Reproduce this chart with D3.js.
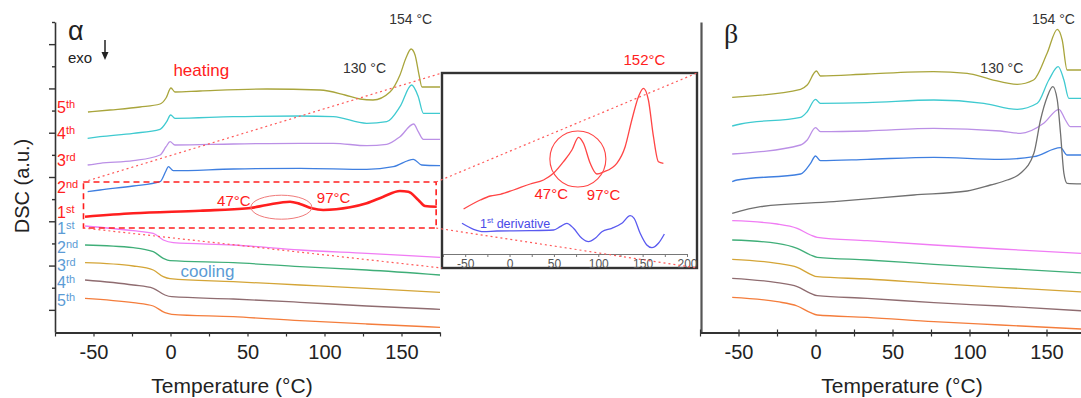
<!DOCTYPE html>
<html>
<head>
<meta charset="utf-8">
<script src="https://cdn.jsdelivr.net/npm/d3@7"></script>
<style>
  body { margin: 0; background: #fff; }
  text { font-family: "Liberation Sans", Arial, sans-serif; }
</style>
</head>
<body>
<svg id="chart" width="1081" height="398"></svg>
<script>
// ---- data: [temperature °C, DSC a.u.] ----
const alphaHeat5 = [[-53.6,22.0],[-39.3,22.2],[-19.8,22.5],[-6.8,22.8],[-2.9,23.4],[0.3,24.4],[2.9,24.0],[19.2,24.1],[62.7,24.3],[97.1,24.2],[113.3,23.7],[123.1,23.3],[131.5,23.2],[142.5,24.0],[149,25.7],[152.9,27.4],[156.2,28.3],[158.8,27.7],[161.4,25.7],[163.3,24.5],[175,24.5]];
const alphaHeat4 = [[-53.8,19.37],[-45.8,19.53],[-24.2,19.87],[-6.8,20.27],[-2.5,21.03],[0.1,21.7],[2.9,21.37],[40.6,21.53],[84.1,21.6],[105.7,21.53],[127.4,20.87],[140.4,21.03],[149,22.53],[156.6,24.7],[160.9,23.53],[164.2,21.87],[175,21.87]];
const alphaHeat3 = [[-53.8,16.7],[-45.8,16.87],[-24.2,17.13],[-6.8,17.7],[-2.9,18.53],[-0.3,19.03],[2.9,18.7],[40.8,18.8],[84.1,18.87],[105.7,18.87],[127.4,18.63],[140.4,18.77],[149,19.53],[157.9,20.8],[160.9,20.03],[164.2,19.27],[175,19.27]];
const alphaHeat2 = [[-53.8,14.03],[-45.8,14.2],[-24.2,14.6],[-6.8,15.03],[-2.9,16.13],[-1.4,16.53],[1.8,16.13],[40.8,16.3],[84.1,16.37],[127.4,16.27],[144.7,16.53],[157.7,17.27],[163.1,16.7],[175,16.63]];
const alphaHeat1 = [[-55.5,11.53],[-24.2,11.87],[19.2,12.13],[50.5,12.37],[62.5,12.7],[77.6,13.03],[84.1,12.8],[91.7,12.37],[99.2,12.2],[116.6,12.47],[127.4,12.87],[138.2,13.53],[149,14.1],[154.4,14.03],[160.9,13.2],[165.3,12.6],[172.9,12.53]];
const alphaCool1 = [[-55.5,10.6],[-24.2,10.13],[-11.2,9.87],[-4.7,9.2],[1.8,8.93],[40.8,8.7],[84.1,8.2],[127.4,7.87],[175,7.47]];
const alphaCool2 = [[-55.5,8.7],[-24.2,8.43],[-11.2,8.03],[-4.7,7.37],[-0.3,7.13],[40.8,6.93],[84.1,6.53],[127.4,6.2],[175,5.7]];
const alphaCool3 = [[-55.5,6.93],[-24.2,6.6],[-11.2,6.2],[-4.7,5.53],[-0.3,5.33],[40.8,5.03],[84.1,4.7],[127.4,4.37],[175,3.97]];
const alphaCool4 = [[-55.5,5.2],[-24.2,4.7],[-11.2,4.37],[-3.6,3.7],[0.8,3.53],[40.8,3.3],[84.1,2.97],[127.4,2.6],[175,2.27]];
const alphaCool5 = [[-55.5,3.37],[-24.2,2.93],[-11.2,2.6],[-3.6,1.93],[0.8,1.77],[40.8,1.53],[84.1,1.13],[127.4,0.8],[175,0.47]];

const betaHeat5 = [[-54.1,23.47],[-9.7,24.27],[-5.4,24.7],[0.6,26.1],[3.2,25.6],[33.6,25.8],[76.6,26.03],[98.5,25.87],[113.6,25.27],[131,24.77],[141.6,25.2],[150.4,27.87],[157,30.27],[160.2,29.2],[163.4,26.2],[175,26.2]];
const betaHeat4 = [[-54.1,20.6],[-48.7,20.8],[-9.7,21.47],[-5.4,22.03],[0,23.27],[3.2,22.87],[33.6,22.93],[76.9,23.2],[109.3,22.87],[131,22.27],[144,22.87],[151.5,25.2],[157.6,26.53],[161.3,25.2],[164.5,23.37],[175,23.37]];
const betaHeat3 = [[-54.1,17.8],[-9.7,18.7],[-5.4,19.2],[0,20.43],[3.2,20.03],[33.6,20.1],[76.9,20.37],[120.1,20.1],[133.1,19.87],[148.2,20.87],[158.1,22.27],[162.3,21.2],[165.6,20.53],[175,20.53]];
const betaHeat2 = [[-54.1,15.03],[-50.9,15.2],[-9.7,15.8],[-3.2,16.87],[0,17.6],[3.2,17.13],[33.6,17.27],[76.9,17.47],[120.1,17.27],[141.8,17.53],[159.1,18.43],[163.4,17.7],[175,17.7]];
const betaHeat1 = [[-54.1,11.87],[-35.7,12.53],[11.9,13.03],[63.8,13.7],[98.5,14.1],[113.6,14.7],[124.5,15.2],[133.1,15.87],[141.8,17.87],[146.1,21.2],[150.5,23.53],[154.1,24.53],[157,23.2],[159.1,19.87],[161.3,15.87],[163.4,14.87],[175,14.8]];
const betaCool1 = [[-54.1,11.13],[-24.9,10.8],[-11.9,10.37],[-3.2,9.7],[1.1,9.47],[33.6,9.13],[76.9,8.7],[120.1,8.3],[175,7.85]];
const betaCool2 = [[-54.1,9.2],[-24.9,8.87],[-11.9,8.37],[-3.2,7.7],[1.1,7.47],[33.6,7.2],[76.9,6.77],[120.1,6.37],[175,5.9]];
const betaCool3 = [[-54.1,7.27],[-24.9,6.87],[-11.9,6.47],[-3.2,5.77],[1.1,5.53],[33.6,5.3],[76.9,4.87],[120.1,4.47],[175,4.0]];
const betaCool4 = [[-54.1,5.37],[-24.9,4.93],[-11.9,4.53],[-3.2,3.87],[1.1,3.63],[33.6,3.37],[76.9,2.93],[120.1,2.6],[175,2.1]];
const betaCool5 = [[-54.1,3.47],[-24.9,3.03],[-11.9,2.6],[-3.2,1.93],[1.1,1.7],[33.6,1.47],[76.9,1.03],[120.1,0.7],[175,0.28]];

const insetHeat1 = [[-51.8,4.5],[-33,5.4],[-21.7,5.8],[-10.5,5.97],[4.5,6.4],[23.3,7.0],[38.3,7.4],[49.5,8.07],[60.8,9.23],[70.3,10.4],[77.7,11.67],[83.3,11.07],[90.9,9.07],[98.4,8.0],[105.9,8.2],[120.9,9.07],[130.3,10.73],[137.8,13.4],[145.3,15.73],[150.9,16.57],[156.5,15.4],[162.2,11.73],[167.8,9.23],[173.4,9.07]];
const insetDeriv = [[-53.6,3.07],[-40.5,2.47],[-29.3,2.23],[-14.2,2.3],[23.3,2.33],[49.5,2.4],[57.1,2.73],[64.6,3.07],[72.1,2.57],[81.5,1.57],[89,1.23],[96.5,1.57],[104.1,2.23],[115.3,2.57],[126.6,3.07],[136,3.83],[140.4,3.57],[147.2,2.07],[154.7,0.9],[160.4,0.63],[167.8,1.07],[174.5,2.0]];

const heatOrdinals = ['5th', '4th', '3rd', '2nd', '1st'];
const coolOrdinals = ['1st', '2nd', '3rd', '4th', '5th'];
const xTickLabels = [-50, 0, 50, 100, 150];
const insetTickLabels = [-50, 0, 50, 100, 150, 200];
const zoomBox = { t0: -56.5, t1: 172.5, v0: 10.4, v1: 15.0 };

const heatColors = ['#a9a53c', '#3fcad0', '#bb90e6', '#3f7fe0'];
const coolColors = ['#f07cf4', '#3fae78', '#d4a537', '#8f6c70', '#f47d3c'];
const red = '#ff1f1f', redLabel = '#ff2020', blueLabel = '#5b9bd5';

// ---- layout ----
const svg = d3.select('#chart');
const xA = d3.scaleLinear().domain([-75, 175]).range([55, 440]);
const xB = d3.scaleLinear().domain([-75, 175]).range([700, 1085]);
const y = d3.scaleLinear().domain([0, 31]).range([332, 22]);
const xI = d3.scaleLinear().domain([-75, 200]).range([443, 687]);
const yI = d3.scaleLinear().domain([0, 18]).range([254, 74]);
const inset = { x0: 442, y0: 73, x1: 697, y1: 268 };

const lineFor = (xs, ys) => d3.line().x(d => xs(d[0])).y(d => ys(d[1])).curve(d3.curveMonotoneX);

function drawSeries(g, list, xs, ys) {
  list.forEach(s => {
    g.append('path')
      .attr('d', lineFor(xs, ys)(s.data))
      .attr('fill', 'none')
      .attr('stroke', s.color)
      .attr('stroke-width', s.width || 1.3)
      .attr('stroke-linejoin', 'round');
  });
}

function xAxis(xs, cls) {
  const g = svg.append('g')
    .attr('class', cls)
    .attr('transform', 'translate(0,332.5)')
    .call(d3.axisBottom(xs)
      .tickValues(d3.range(-75, 176, 25))
      .tickSizeInner(4).tickSizeOuter(0).tickPadding(8)
      .tickFormat(d => xTickLabels.includes(d) ? String(d) : ''));
  g.select('.domain').attr('stroke', '#333').attr('stroke-width', 1.8);
  g.selectAll('.tick line').attr('stroke', '#333').attr('stroke-width', 1.2);
  g.selectAll('.tick text').attr('font-size', 20).attr('fill', '#222')
    .style('font-family', '"Liberation Sans", Arial, sans-serif');
  return g;
}

// ---- α panel ----
const pa = svg.append('g');
drawSeries(pa, [
  { data: alphaCool5, color: coolColors[4] },
  { data: alphaCool4, color: coolColors[3] },
  { data: alphaCool3, color: coolColors[2] },
  { data: alphaCool2, color: coolColors[1] },
  { data: alphaCool1, color: coolColors[0] },
  { data: alphaHeat2, color: heatColors[3] },
  { data: alphaHeat3, color: heatColors[2] },
  { data: alphaHeat4, color: heatColors[1] },
  { data: alphaHeat5, color: heatColors[0] },
  { data: alphaHeat1, color: red, width: 2.6 }
], xA, y);

const yTicks = d3.range(1, 15).map(k => k * 31 / 14);
const ya = svg.append('g')
  .attr('transform', 'translate(55,0)')
  .call(d3.axisLeft(y).tickValues(yTicks).tickSizeInner(6).tickSizeOuter(0).tickFormat(''));
ya.select('.domain').attr('stroke', '#333').attr('stroke-width', 1.6);
ya.selectAll('.tick line').attr('stroke', '#333').attr('stroke-width', 1.4)
  .attr('x2', (d, i) => (i % 2 === 0 ? -6 : -3));
xAxis(xA, 'x-alpha');

// ordinal labels next to the axis, aligned with curve starts
function ordinal(txt, yy, color) {
  const t = svg.append('text').attr('x', 57).attr('y', yy).attr('fill', color)
    .attr('font-size', 16);
  t.append('tspan').text(txt.slice(0, -2));
  t.append('tspan').text(txt.slice(-2)).attr('font-size', 11).attr('dy', -5);
}
const heatFirst = [alphaHeat5, alphaHeat4, alphaHeat3, alphaHeat2, alphaHeat1];
heatOrdinals.forEach((o, i) => ordinal(o, y(heatFirst[i][0][1]) + 1, redLabel));
const coolFirst = [alphaCool1, alphaCool2, alphaCool3, alphaCool4, alphaCool5];
coolOrdinals.forEach((o, i) => ordinal(o, y(coolFirst[i][0][1]) + 8, blueLabel));

// zoom box + highlight on 1st heating
svg.append('rect')
  .attr('x', xA(zoomBox.t0)).attr('y', y(zoomBox.v1))
  .attr('width', xA(zoomBox.t1) - xA(zoomBox.t0)).attr('height', y(zoomBox.v0) - y(zoomBox.v1))
  .attr('fill', 'none').attr('stroke', red).attr('stroke-width', 1.6).attr('stroke-dasharray', '6,4');
svg.append('ellipse')
  .attr('cx', xA(72)).attr('cy', y(12.48)).attr('rx', 30.5).attr('ry', 12)
  .attr('fill', 'none').attr('stroke', '#f07a7a').attr('stroke-width', 1);

const txt = (x, yy, s, size, color, anchor) => svg.append('text')
  .attr('x', x).attr('y', yy).attr('font-size', size).attr('fill', color)
  .attr('text-anchor', anchor || 'start').text(s);

txt(xA(52), y(12.6), '47°C', 15, redLabel, 'end');
txt(xA(95), y(12.9), '97°C', 15, redLabel, 'start');
txt(68, 40, 'α', 27, '#222');
txt(68, 63, 'exo', 15, '#222');
svg.append('line').attr('x1', 105).attr('x2', 105).attr('y1', 40).attr('y2', 54)
  .attr('stroke', '#222').attr('stroke-width', 1.5);
svg.append('path').attr('d', 'M101.5,52 L108.5,52 L105,60 Z').attr('fill', '#222');
txt(xA(20), 76, 'heating', 17, redLabel, 'middle');
txt(xA(24), 277, 'cooling', 17, blueLabel, 'middle');
txt(xA(156), 24, '154 °C', 14, '#333', 'middle');
txt(xA(126), 73, '130 °C', 14, '#333', 'middle');

svg.append('text').attr('transform', 'translate(29,186) rotate(-90)')
  .attr('text-anchor', 'middle').attr('font-size', 20).attr('fill', '#222').text('DSC (a.u.)');
txt(232, 393, 'Temperature (°C)', 21, '#222', 'middle');

// ---- β panel ----
const pb = svg.append('g');
drawSeries(pb, [
  { data: betaCool5, color: coolColors[4] },
  { data: betaCool4, color: coolColors[3] },
  { data: betaCool3, color: coolColors[2] },
  { data: betaCool2, color: coolColors[1] },
  { data: betaCool1, color: coolColors[0] },
  { data: betaHeat2, color: heatColors[3] },
  { data: betaHeat3, color: heatColors[2] },
  { data: betaHeat4, color: heatColors[1] },
  { data: betaHeat5, color: heatColors[0] },
  { data: betaHeat1, color: '#707070' }
], xB, y);
const yb = svg.append('g').attr('transform', 'translate(701,0)')
  .call(d3.axisLeft(y).tickValues([]).tickSizeOuter(0));
yb.select('.domain').attr('stroke', '#555').attr('stroke-width', 2.2);
const xb = xAxis(xB, 'x-beta');
xb.selectAll('.tick line').attr('y1', -3);
svg.append('text').attr('x', 724).attr('y', 43).attr('font-size', 28).attr('fill', '#222')
  .style('font-family', '"Liberation Serif", "DejaVu Serif", serif').text('β');
txt(xB(154.5), 24, '154 °C', 14, '#333', 'middle');
txt(xB(121), 73, '130 °C', 14, '#333', 'middle');
txt(902, 393, 'Temperature (°C)', 21, '#222', 'middle');

// ---- inset (zoom of 1st heating) ----
const ig = svg.append('g');
ig.append('rect')
  .attr('x', inset.x0).attr('y', inset.y0)
  .attr('width', inset.x1 - inset.x0).attr('height', inset.y1 - inset.y0)
  .attr('fill', '#fff').attr('stroke', '#333').attr('stroke-width', 2.4);
const xi = ig.append('g').attr('transform', 'translate(0,254)')
  .call(d3.axisBottom(xI).tickValues(d3.range(-75, 201, 25))
    .tickSizeInner(3).tickSizeOuter(0).tickPadding(2)
    .tickFormat(d => insetTickLabels.includes(d) ? String(d) : ''));
xi.select('.domain').attr('stroke', '#777');
xi.selectAll('.tick line').attr('stroke', '#777');
xi.selectAll('.tick text').attr('font-size', 12).attr('fill', '#555');
drawSeries(ig, [
  { data: insetHeat1, color: '#ff4545', width: 1.3 },
  { data: insetDeriv, color: '#5a5af0', width: 1.3 }
], xI, yI);
ig.append('circle').attr('cx', xI(77)).attr('cy', yI(9.5)).attr('r', 28)
  .attr('fill', 'none').attr('stroke', '#ff4545').attr('stroke-width', 1.1);
txt(xI(47), yI(5.5), '47°C', 15, redLabel, 'middle');
txt(xI(106), yI(5.4), '97°C', 15, redLabel, 'middle');
txt(xI(152), 65, '152°C', 15, redLabel, 'middle');
const dl = svg.append('text').attr('x', 480).attr('y', 228).attr('font-size', 12.5).attr('fill', '#4a4ae8');
dl.append('tspan').text('1');
dl.append('tspan').text('st').attr('font-size', 8).attr('dy', -5);
dl.append('tspan').text(' derivative').attr('dy', 5);

// dotted connectors from zoom box corners to inset corners
const corners = [
  [xA(zoomBox.t0), y(zoomBox.v1), inset.x0, inset.y0],
  [xA(zoomBox.t1), y(zoomBox.v1), inset.x1, inset.y0],
  [xA(zoomBox.t0), y(zoomBox.v0), inset.x0, inset.y1],
  [xA(zoomBox.t1), y(zoomBox.v0), inset.x1, inset.y1]
];
svg.selectAll('line.conn').data(corners).enter().append('line')
  .attr('class', 'conn')
  .attr('x1', d => d[0]).attr('y1', d => d[1]).attr('x2', d => d[2]).attr('y2', d => d[3])
  .attr('stroke', '#ff5a5a').attr('stroke-width', 1.2).attr('stroke-dasharray', '2,3');
</script>
</body>
</html>
